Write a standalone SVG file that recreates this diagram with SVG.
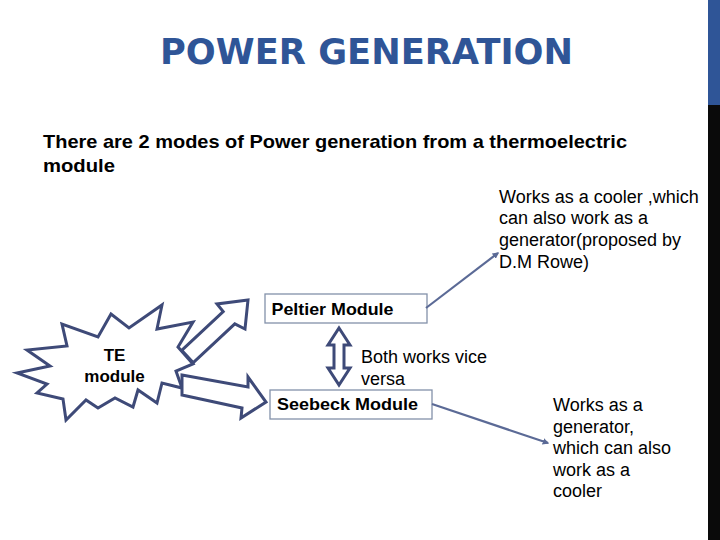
<svg xmlns="http://www.w3.org/2000/svg" width="720" height="540" viewBox="0 0 720 540">
<defs>
<style>
.t{font-family:"Liberation Sans",Arial,sans-serif;fill:#000}
.b{font-weight:bold}
.shape{fill:#fff;stroke:#3E4A78;stroke-width:3;stroke-linejoin:miter}
.box{fill:#fff;stroke:#8391AA;stroke-width:1.3}
.conn{stroke:#5B6A96;stroke-width:2.2;fill:none}
.bar-dark{fill:#0a0a0a}
</style>
<marker id="ah" viewBox="0 0 10 10" refX="8" refY="5" markerWidth="3" markerHeight="3" orient="auto">
<path d="M0,0 L10,5 L0,10 z" fill="#5B6A96"/>
</marker>
</defs>
<rect width="720" height="540" fill="#fff"/>
<path class="bar-dark" d="M708,104 H720 V540 H708 Z"/>
<rect x="708" y="0" width="12" height="105" fill="#2F5597"/>
<text x="160" y="64" font-family="'DejaVu Sans',Arial,sans-serif" font-weight="900" font-size="36" fill="#2F5597" textLength="413" lengthAdjust="spacingAndGlyphs">POWER GENERATION</text>
<text class="t b" x="43" y="148" font-size="19" textLength="584" lengthAdjust="spacingAndGlyphs">There are 2 modes of Power generation from a thermoelectric</text>
<text class="t b" x="43" y="172" font-size="19" textLength="72" lengthAdjust="spacingAndGlyphs">module</text>

<g id="te-module">
<polygon class="shape" points="17,373 50,366 27,350 67,346 62,324 98,337 111,314 129,328 162,305 157,329 193,322 178,347 193,364 176,371 182,388 162,383 157,403 138,390 133,407 115,398 98,408 86,400 66,420 63,399 37,393 47,384"/>
<text class="t b" x="114.5" y="361" font-size="17" text-anchor="middle">TE</text>
<text class="t b" x="114.5" y="382" font-size="17" text-anchor="middle">module</text>
</g>

<g id="arrows">
<polygon class="shape" points="181.7,350.3 223.2,311.5 217,304 248,300 245,329 234.8,323.9 193.3,362.7"/>
<polygon class="shape" points="182,375 248,387 248,377 266,402 241,418 242,408 182,395"/>
<polygon class="shape" points="339,328 350,345 344,345 344,368 350,368 339,385 328,368 334,368 334,345 328,345"/>
</g>

<g id="peltier">
<rect class="box" x="265" y="294" width="162" height="29"/>
<text class="t b" x="271.5" y="315" font-size="16.5" textLength="122" lengthAdjust="spacingAndGlyphs">Peltier Module</text>
</g>

<g id="seebeck">
<rect class="box" x="270" y="390" width="162" height="29"/>
<text class="t b" x="277" y="410" font-size="16.5" textLength="141" lengthAdjust="spacingAndGlyphs">Seebeck Module</text>
</g>

<g id="both-label">
<text class="t" x="361" y="363" font-size="18">Both works vice</text>
<text class="t" x="361" y="385" font-size="18">versa</text>
</g>

<g id="note-cooler">
<text class="t" x="499" y="203" font-size="18">Works as a cooler ,which</text>
<text class="t" x="499" y="224" font-size="18">can also work as a</text>
<text class="t" x="499" y="246" font-size="18">generator(proposed by</text>
<text class="t" x="499" y="268" font-size="18">D.M Rowe)</text>
</g>

<g id="note-generator">
<text class="t" x="553" y="411" font-size="18">Works as a</text>
<text class="t" x="553" y="433" font-size="18">generator,</text>
<text class="t" x="553" y="454" font-size="18">which can also</text>
<text class="t" x="553" y="476" font-size="18">work as a</text>
<text class="t" x="553" y="497" font-size="18">cooler</text>
</g>

<g id="connectors">
<line class="conn" x1="426" y1="308" x2="498" y2="253" marker-end="url(#ah)"/>
<line class="conn" x1="432" y1="404" x2="548" y2="443" marker-end="url(#ah)"/>
</g>
</svg>
